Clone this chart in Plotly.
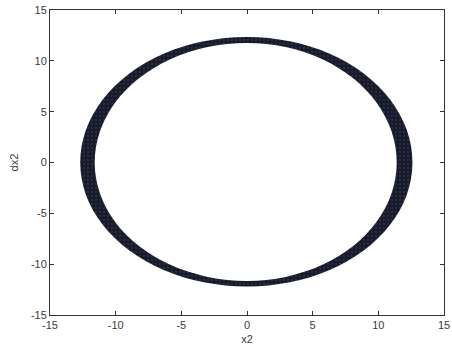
import plotly.graph_objects as go

# Outer edge of the x2 / dx2 phase trajectory band (x2, dx2)
outer_x2 = [12.6, 12.17, 10.91, 8.91, 6.3, 3.26, 0.0, -3.29, -6.35, -8.98, -11.0, -12.27,
            -12.7, -12.27, -11.0, -8.98, -6.35, -3.29, 0.0, 3.26, 6.3, 8.91, 10.91, 12.17]
outer_dx2 = [0.0, 3.2, 6.18, 8.73, 10.7, 11.93, 12.35, 11.93, 10.7, 8.73, 6.18, 3.2,
             0.0, -3.16, -6.1, -8.63, -10.57, -11.78, -12.2, -11.78, -10.57, -8.63, -6.1, -3.16]

# Inner edge of the same band
inner_x2 = [11.4, 11.01, 9.87, 8.06, 5.7, 2.95, 0.0, -3.0, -5.8, -8.2, -10.05, -11.2,
            -11.6, -11.2, -10.05, -8.2, -5.8, -3.0, 0.0, 2.95, 5.7, 8.06, 9.87, 11.01]
inner_dx2 = [0.0, 3.04, 5.88, 8.31, 10.18, 11.35, 11.75, 11.35, 10.18, 8.31, 5.88, 3.04,
             0.0, -3.02, -5.83, -8.24, -10.09, -11.25, -11.65, -11.25, -10.09, -8.24, -5.83, -3.02]

tick_vals = [-15, -10, -5, 0, 5, 10, 15]
tick_text = ["-15", "-10", "-5", "0", "5", "10", "15"]

band_color = "#161a2a"
font_family = "Liberation Sans, Arial, sans-serif"

fig = go.Figure()
fig.add_trace(go.Scatter(
    x=outer_x2 + [outer_x2[0]], y=outer_dx2 + [outer_dx2[0]],
    mode="lines", fill="toself", line=dict(width=0, shape="spline", smoothing=1.0),
    fillcolor=band_color,
    fillpattern=dict(shape=".", bgcolor=band_color, fgcolor="#3b4258", size=4, solidity=0.25),
    hoverinfo="skip", showlegend=False,
))
fig.add_trace(go.Scatter(
    x=inner_x2 + [inner_x2[0]], y=inner_dx2 + [inner_dx2[0]],
    mode="lines", fill="toself", line=dict(width=0, shape="spline", smoothing=1.0),
    fillcolor="white", hoverinfo="skip", showlegend=False,
))

axis_common = dict(
    range=[-15, 15], tickvals=tick_vals, ticktext=tick_text,
    ticks="inside", ticklen=4, tickcolor="#333", tickwidth=1,
    showline=True, linecolor="#333", linewidth=1, mirror="ticks",
    showgrid=False, zeroline=False, ticklabeloverflow="allow", automargin=False,
    tickfont=dict(family=font_family, size=11, color="#3a3a3a"),
)

fig.update_layout(
    width=452, height=349,
    margin=dict(l=50, r=8, t=10, b=34),
    paper_bgcolor="white", plot_bgcolor="white",
    xaxis=dict(**axis_common, title=dict(text="x2", standoff=5,
               font=dict(family=font_family, size=11, color="#3a3a3a"))),
    yaxis=dict(**axis_common, title=dict(text="dx2", standoff=10,
               font=dict(family=font_family, size=11, color="#3a3a3a"))),
)

fig.write_html("out.html")
